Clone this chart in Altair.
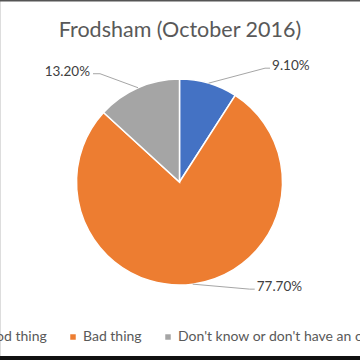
import altair as alt
import pandas as pd

# ---- data ----
categories = ["Good thing", "Bad thing", "Don't know or don't have an opinion"]
values = [9.10, 77.70, 13.20]
value_labels = ["9.10%", "77.70%", "13.20%"]
title_text = "Frodsham (October 2016)"

# ---- styling ----
colors = ["#4472C4", "#ED7D31", "#A5A5A5"]
FONT = "Lato"
CX, CY, R = 179.5, 182, 103
# leader-line geometry per slice (style): elbow offset from slice edge,
# horizontal tail length, text gap and vertical text shift
leader_dx = [56.5, 57, -38]
leader_dy = [-15, 5, -14]
tail = [5, 5, -7]
text_gap = [2, 2, -3]
text_dy = [-2, -2, -2]
side = ["left", "left", "right"]

df = pd.DataFrame({
    "category": categories,
    "value": values,
    "label": value_labels,
    "order": list(range(len(categories))),
    "dx": leader_dx,
    "dy": leader_dy,
    "tail": tail,
    "gap": text_gap,
    "tdy": text_dy,
    "side": side,
})

color_scale = alt.Scale(domain=categories, range=colors)

base = alt.Chart(df)

pie = base.mark_arc(outerRadius=R, stroke="white", strokeWidth=1.5).encode(
    theta=alt.Theta("value:Q", stack=True),
    color=alt.Color(
        "category:N",
        scale=color_scale,
        legend=alt.Legend(
            orient="none",
            legendX=-39,
            legendY=330,
            direction="horizontal",
            title=None,
            symbolType="square",
            symbolSize=30,
            symbolStrokeWidth=0,
            labelFont=FONT,
            labelFontSize=14,
            labelColor="#595959",
            labelOffset=3,
            labelLimit=400,
            columnPadding=19,
        ),
    ),
    order=alt.Order("order:Q"),
    x=alt.value(CX),
    y=alt.value(CY),
)

geo = base.transform_joinaggregate(total="sum(value)").transform_window(
    cum="sum(value)", sort=[alt.SortField("order")], frame=[None, 0]
).transform_calculate(
    mid="2*PI*(datum.cum - datum.value/2)/datum.total",
    ex=f"{CX} + {R}*sin(datum.mid)",
    ey=f"{CY} - {R}*cos(datum.mid)",
    bx="datum.ex + datum.dx",
    by="datum.ey + datum.dy",
    hx="datum.bx + datum.tail",
    tx="datum.hx + datum.gap",
    ty="datum.by + datum.tdy",
)

seg1 = geo.mark_rule(color="#A6A6A6", strokeWidth=1).encode(
    x=alt.X("ex:Q", scale=None, axis=None),
    y=alt.Y("ey:Q", scale=None, axis=None),
    x2="bx:Q",
    y2="by:Q",
)
seg2 = geo.mark_rule(color="#A6A6A6", strokeWidth=1).encode(
    x=alt.X("bx:Q", scale=None, axis=None),
    y=alt.Y("by:Q", scale=None, axis=None),
    x2="hx:Q",
    y2="by:Q",
)
txt_left = geo.transform_filter("datum.side == 'left'").mark_text(
    align="left", baseline="middle", font=FONT, fontSize=13.5, color="#404040"
).encode(
    x=alt.X("tx:Q", scale=None, axis=None),
    y=alt.Y("ty:Q", scale=None, axis=None),
    text="label:N",
)
txt_right = geo.transform_filter("datum.side == 'right'").mark_text(
    align="right", baseline="middle", font=FONT, fontSize=13.5, color="#404040"
).encode(
    x=alt.X("tx:Q", scale=None, axis=None),
    y=alt.Y("ty:Q", scale=None, axis=None),
    text="label:N",
)

frame_df = pd.DataFrame({"k": [0]})
bottom_bar = alt.Chart(frame_df).mark_rect(color="#111111").encode(
    x=alt.value(0), x2=alt.value(360), y=alt.value(356), y2=alt.value(360)
)
top_bar = alt.Chart(frame_df).mark_rect(color="#555555").encode(
    x=alt.value(0), x2=alt.value(360), y=alt.value(0), y2=alt.value(1.5)
)

chart = alt.layer(pie, seg1, seg2, txt_left, txt_right, bottom_bar, top_bar).properties(
    width=360,
    height=360,
    padding=0,
    autosize=alt.AutoSizeParams(type="none"),
    title=alt.TitleParams(
        title_text,
        font=FONT,
        fontSize=21.5,
        fontWeight="normal",
        color="#595959",
        anchor="middle",
        baseline="middle",
        dy=52,
        offset=0,
    ),
).configure_view(stroke=None).configure(background="white")

chart.save("out.html", embed_options={"renderer": "svg", "actions": False})
